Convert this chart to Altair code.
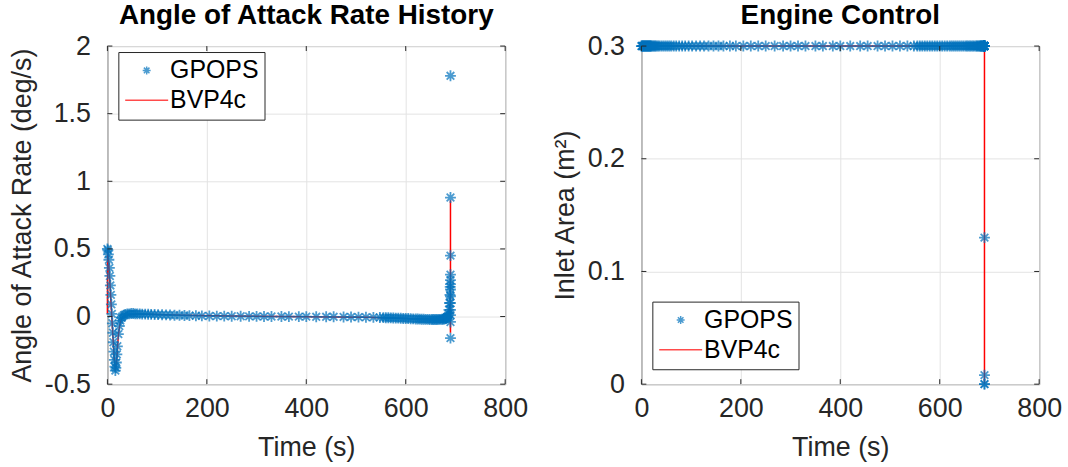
import altair as alt
import pandas as pd

BLUE = "#0072BD"
RED = "#FF0000"
INK = "#262626"
GRID = "#E3E3E3"
FONT = "Liberation Sans"

# MATLAB-style asterisk marker: plus and cross combined
STAR = "M0,-1L0,1M-1,0L1,0M-0.7,-0.7L0.7,0.7M-0.7,0.7L0.7,-0.7"
# legend key for the solid line: a long horizontal stroke
LINE_KEY = "M-5.4,0L5.4,0"

# GPOPS collocation times (s), shared by both panels
t_gpops = [
    0, 1, 2, 3, 4, 5, 6, 7, 8, 9, 10, 11, 12, 13, 14, 15, 16, 17, 18, 19,
    20, 22, 24, 26, 28, 30, 33, 36, 40, 44, 48, 52, 56, 60, 65, 70, 76, 82, 88, 95,
    102, 110, 118, 126, 135, 145, 155, 165, 178, 190, 205, 220, 235, 250, 268, 285, 300, 315, 330, 350,
    365, 385, 400, 420, 440, 455, 475, 490, 505, 520, 535, 548, 555, 560, 565, 570, 575, 580, 585, 590,
    595, 600, 605, 610, 615, 620, 624, 628, 632, 636, 640, 644, 648, 652, 655, 658, 661, 664, 667, 670,
    673, 675, 677, 679, 681, 682, 683, 684, 685, 686, 687, 688, 689, 689.5,
    690, 690, 690, 690, 690, 690, 690, 690, 690, 690, 690, 690, 690,
]

# angle of attack rate (deg/s) at the GPOPS times
alpha_rate_gpops = [
    0.50, 0.49, 0.46, 0.42, 0.36, 0.30, 0.23, 0.16, 0.09, 0.02, -0.05, -0.12, -0.19, -0.26, -0.32, -0.37, -0.40, -0.38, -0.34, -0.28,
    -0.22, -0.13, -0.07, -0.03, -0.01, 0.00, 0.010, 0.015, 0.020, 0.020, 0.022, 0.022, 0.020, 0.020, 0.020, 0.018, 0.018, 0.017, 0.016, 0.015,
    0.014, 0.013, 0.012, 0.011, 0.010, 0.009, 0.008, 0.007, 0.006, 0.005, 0.004, 0.003, 0.003, 0.002, 0.002, 0.001, 0.001, 0.000, 0.000, 0.000,
    -0.001, -0.001, -0.001, -0.002, -0.002, -0.002, -0.003, -0.003, -0.004, -0.005, -0.006, -0.007, -0.008, -0.009, -0.009, -0.010, -0.011, -0.012, -0.012, -0.013,
    -0.014, -0.015, -0.015, -0.016, -0.017, -0.018, -0.018, -0.019, -0.020, -0.020, -0.021, -0.021, -0.022, -0.022, -0.022, -0.022, -0.022, -0.022, -0.021, -0.021,
    -0.020, -0.019, -0.018, -0.016, -0.014, -0.012, -0.009, -0.005, 0.005, 0.020, 0.050, 0.100, 0.160, 0.220,
    0.31, 0.27, 0.24, 0.20, 0.15, 0.10, 0.05, 0.01, -0.04, -0.16, 0.45, 0.88, 1.78,
]

# inlet area (m^2) at the GPOPS times: held at its upper bound until the final instants
inlet_area_gpops = [0.3] * 123 + [0.13, 0.008, 0.0, 0.0]

# BVP4c indirect solution
t_bvp_alpha = [0, 0.5, 3, 8, 13, 16, 18, 20, 22, 25, 28, 32, 40, 60, 100, 150, 250, 350, 450, 520,
               570, 610, 650, 672, 680, 684, 687, 689, 690, 690]
alpha_rate_bvp = [0.02, 0.50, 0.38, 0.05, -0.27, -0.40, -0.36, -0.25, -0.14, -0.06, -0.02, 0.0, 0.012, 0.018, 0.015, 0.010, 0.004, 0.0, -0.003, -0.006,
                  -0.010, -0.016, -0.020, -0.020, -0.012, 0.0, 0.04, 0.09, -0.12, 0.86]

t_bvp_area = [0, 690, 690]
inlet_area_bvp = [0.3, 0.3, 0.0]

series_names = ["GPOPS", "BVP4c"]
x_ticks = [0, 200, 400, 600, 800]
alpha_ticks = [-0.5, 0, 0.5, 1, 1.5, 2]
area_ticks = [0, 0.1, 0.2, 0.3]

W, H = 400, 340


def frame(df_pts, df_line, y_dom, y_ticks, y_title, title, legend_y):
    x_scale = alt.Scale(domain=[0, 800], nice=False, zero=False, padding=0)
    y_scale = alt.Scale(domain=y_dom, nice=False, zero=False, padding=0)
    color_scale = alt.Scale(domain=series_names, range=[BLUE, RED])
    shape_scale = alt.Scale(domain=series_names, range=[STAR, LINE_KEY])

    legend = alt.Legend(
        title=None, orient="none", legendX=11, legendY=legend_y,
        strokeColor=INK, fillColor="white", padding=6, cornerRadius=0,
        labelFont=FONT, labelFontSize=25, labelColor="black",
        symbolSize=64, symbolOffset=10, labelOffset=11, rowPadding=4,
        symbolStrokeWidth=1.5, symbolFillColor="transparent",
    )

    x_axis = alt.Axis(values=x_ticks, title="Time (s)", labelExpr="toString(datum.value)",
                      labelPadding=12, titlePadding=13)
    y_axis = alt.Axis(values=y_ticks, title=y_title, labelExpr="toString(datum.value)",
                      labelPadding=17, titlePadding=8)

    pts = alt.Chart(df_pts).mark_point(filled=False, size=120, strokeWidth=1.8).encode(
        x=alt.X("t:Q", scale=x_scale, axis=x_axis),
        y=alt.Y("v:Q", scale=y_scale, axis=y_axis),
        color=alt.Color("series:N", scale=color_scale, legend=legend),
        shape=alt.Shape("series:N", scale=shape_scale, legend=legend),
    )
    line = alt.Chart(df_line).mark_line(strokeWidth=1.5).encode(
        x=alt.X("t:Q", scale=x_scale),
        y=alt.Y("v:Q", scale=y_scale),
        order="i:Q",
        color=alt.Color("series:N", scale=color_scale, legend=legend),
    )

    # inward tick marks on all four sides of the box
    xt = pd.DataFrame({"t": x_ticks})
    yt = pd.DataFrame({"v": y_ticks})
    tick_style = dict(color=INK, strokeWidth=1)
    ticks = [
        alt.Chart(xt).mark_rule(**tick_style).encode(x=alt.X("t:Q", scale=x_scale), y=alt.value(H), y2=alt.value(H - 5)),
        alt.Chart(xt).mark_rule(**tick_style).encode(x=alt.X("t:Q", scale=x_scale), y=alt.value(0), y2=alt.value(5)),
        alt.Chart(yt).mark_rule(**tick_style).encode(y=alt.Y("v:Q", scale=y_scale), x=alt.value(0), x2=alt.value(5)),
        alt.Chart(yt).mark_rule(**tick_style).encode(y=alt.Y("v:Q", scale=y_scale), x=alt.value(W), x2=alt.value(W - 5)),
    ]

    return alt.layer(line, pts, *ticks).properties(
        width=W, height=H,
        title=alt.TitleParams(title, font=FONT, fontSize=28, fontWeight="bold", color="black",
                              anchor="middle", frame="group", offset=2),
    )


df_alpha_pts = pd.DataFrame({"t": t_gpops, "v": alpha_rate_gpops, "series": "GPOPS"})
df_alpha_line = pd.DataFrame({"t": t_bvp_alpha, "v": alpha_rate_bvp, "series": "BVP4c",
                              "i": range(len(t_bvp_alpha))})
df_area_pts = pd.DataFrame({"t": t_gpops, "v": inlet_area_gpops, "series": "GPOPS"})
df_area_line = pd.DataFrame({"t": t_bvp_area, "v": inlet_area_bvp, "series": "BVP4c",
                             "i": range(len(t_bvp_area))})

left = frame(df_alpha_pts, df_alpha_line, [-0.5, 2], alpha_ticks,
             "Angle of Attack Rate (deg/s)", "Angle of Attack Rate History", 6)
right = frame(df_area_pts, df_area_line, [0, 0.3], area_ticks,
              "Inlet Area (m²)", "Engine Control", 257)

chart = alt.hconcat(left, right, spacing=21).resolve_scale(
    color="independent", shape="independent"
).resolve_legend(
    color="independent", shape="independent"
).properties(
    padding={"left": 7, "top": 0, "right": 5, "bottom": 5},
    background="white",
).configure_view(
    stroke=INK, strokeWidth=1
).configure_axis(
    labelFont=FONT, labelFontSize=27, labelColor=INK, labelFlush=False,
    titleFont=FONT, titleFontSize=27, titleColor=INK, titleFontWeight="normal",
    grid=True, gridColor=GRID, gridWidth=1, domain=False, ticks=False,
)

chart.save("out.html", embed_options={"renderer": "svg", "actions": False})
